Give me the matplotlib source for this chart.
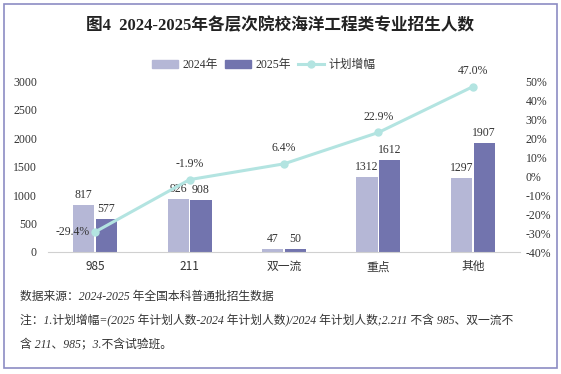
import numpy as np
import matplotlib.pyplot as plt
from matplotlib.patches import Rectangle, Patch
from matplotlib.lines import Line2D

plt.rcParams['font.family'] = ['Liberation Serif', 'Noto Sans CJK SC', 'DejaVu Sans']

# data
categories = ['985', '211', '双一流', '重点', '其他']
y2024 = [817, 926, 47, 1312, 1297]
y2025 = [577, 908, 50, 1612, 1907]
growth = [-29.4, -1.9, 6.4, 22.9, 47.0]

c24 = '#b5b7d6'
c25 = '#7274ae'
cline = '#b3e4e1'
txt = '#333333'

fig = plt.figure(figsize=(5.61, 3.74), dpi=100)
ax = fig.add_axes([48/561, 1-252/374, 472/561, 171/374])
ax2 = ax.twinx()

x = np.arange(len(categories))
w = 0.225
b1 = ax.bar(x - 0.12, y2024, w, color=c24)
b2 = ax.bar(x + 0.12, y2025, w, color=c25)
for rect, v in zip(b1, y2024):
    ax.text(rect.get_x() + rect.get_width()/2, v + 70, str(v), ha='center', va='bottom',
            fontsize=8.5, color=txt)
for rect, v in zip(b2, y2025):
    ax.text(rect.get_x() + rect.get_width()/2, v + 70, str(v), ha='center', va='bottom',
            fontsize=8.5, color=txt)

ax.set_xlim(-0.5, 4.5)
ax.set_ylim(0, 3000)
ax.set_yticks(range(0, 3001, 500))
ax.set_xticks(x)
ax.set_xticklabels(categories, family=['Noto Sans CJK SC'])
ax.tick_params(axis='both', length=0, labelsize=8.5, colors=txt, pad=6)
ax.tick_params(axis='y', pad=8)
for s in ['top', 'right', 'left']:
    ax.spines[s].set_visible(False)
    ax2.spines[s].set_visible(False)
ax.spines['bottom'].set_color('#d0d0d0')
ax2.spines['bottom'].set_visible(False)

ax2.plot(x, growth, color=cline, lw=2.2, marker='o', ms=5, zorder=5)
ax2.set_ylim(-40, 50)
ax2.set_yticks(range(-40, 51, 10))
ax2.set_yticklabels([f'{v}%' for v in range(-40, 51, 10)])
ax2.tick_params(axis='y', length=0, labelsize=8.5, colors=txt, pad=4)
for i, g in enumerate(growth):
    if i == 0:
        ax2.text(x[i] - 0.06, g, f'{g:.1f}%', ha='right', va='center', fontsize=8.5, color=txt)
    else:
        ax2.text(x[i], g + 5, f'{g:.1f}%', ha='center', va='bottom', fontsize=8.5, color=txt)

# title
fig.text(0.5, 1-26/374, '图4  2024-2025年各层次院校海洋工程类专业招生人数', ha='center', va='center',
         fontsize=12, fontweight='bold', color='#222222')

# legend
handles = [Patch(color=c24, label='2024年'), Patch(color=c25, label='2025年'),
           Line2D([], [], color=cline, lw=2.2, marker='o', ms=5, label='计划增幅')]
fig.legend(handles=handles, loc='center', bbox_to_anchor=(0.47, 1-65/374), ncol=3, frameon=False,
           fontsize=8.5, handlelength=2.2, handleheight=0.7, columnspacing=0.6, handletextpad=0.4,
           labelcolor=txt)

# notes
fig.text(20/561, 1-297/374, '数据来源：2024-2025 年全国本科普通批招生数据', fontsize=8.5,
         color=txt, va='center', style='italic')
fig.text(20/561, 1-321/374, '注：1.计划增幅=(2025 年计划人数-2024 年计划人数)/2024 年计划人数;2.211 不含 985、双一流不',
         fontsize=8.5, color=txt, va='center', style='italic')
fig.text(20/561, 1-344/374, '含 211、985；3.不含试验班。', fontsize=8.5, color=txt, va='center', style='italic')

# border
fig.patches.append(Rectangle((4/561, 1-368/374), 553/561, 364/374, transform=fig.transFigure,
                             fill=False, edgecolor='#8c8cc4', lw=1.2))

fig.savefig('out.png', dpi=100)
